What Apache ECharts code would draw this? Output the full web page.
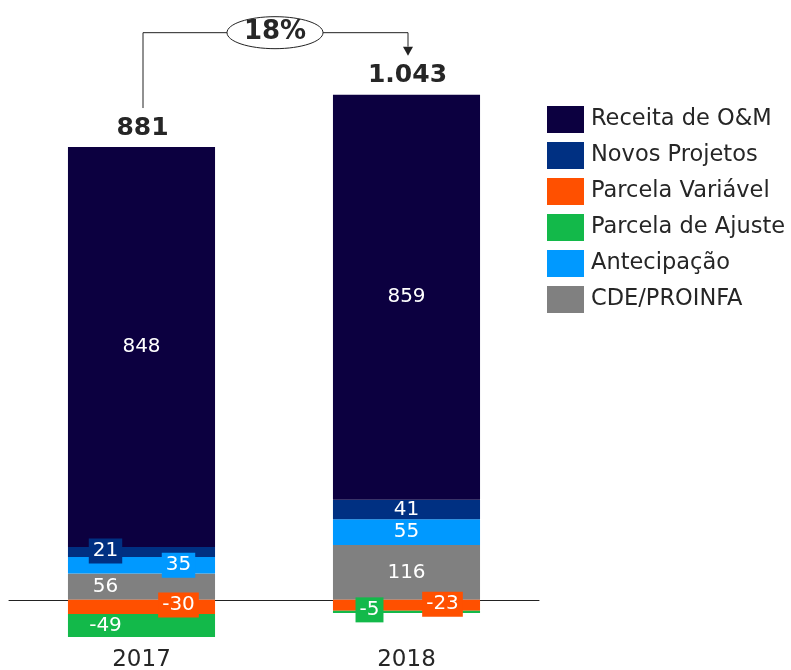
<!DOCTYPE html>
<html>
<head>
<meta charset="utf-8">
<script src="https://cdn.jsdelivr.net/npm/echarts@6/dist/echarts.min.js"></script>
<style>
  html, body { margin: 0; padding: 0; background: #fff; }
  #chart { width: 791px; height: 670px; }
</style>
</head>
<body>
<div id="chart"></div>
<script>
  // dados
  const years = ['2017', '2018']
  const receitaOM = [848, 859]
  const novosProjetos = [21, 41]
  const parcelaVariavel = [-30, -23]
  const parcelaAjuste = [-49, -5]
  const antecipacao = [35, 55]
  const cdeProinfa = [56, 116]

  const FONT = 'DejaVu Sans'
  const legendOrder = ['Receita de O&M', 'Novos Projetos', 'Parcela Variável', 'Parcela de Ajuste', 'Antecipação', 'CDE/PROINFA']

  // ordem de empilhamento: positivos de baixo p/ cima, depois negativos
  const seriesDefs = [
    { name: 'CDE/PROINFA', values: cdeProinfa, color: '#808080', place: [{ dx: -36 }, {}] },
    { name: 'Antecipação', values: antecipacao, color: '#0099ff', place: [{ dx: 37, box: true }, {}] },
    { name: 'Novos Projetos', values: novosProjetos, color: '#003082', place: [{ dx: -36, dy: -1, box: true }, {}] },
    { name: 'Receita de O&M', values: receitaOM, color: '#0c0040', place: [{}, {}] },
    { name: 'Parcela Variável', values: parcelaVariavel, color: '#ff5000', place: [{ dx: 37, dy: -2, box: true }, { dx: 36, dy: -1, box: true }] },
    { name: 'Parcela de Ajuste', values: parcelaAjuste, color: '#13b94a', place: [{ dx: -36 }, { dx: -37, dy: -2, box: true }] }
  ]

  function fmt (n) {
    return String(n).replace(/\B(?=(\d{3})+(?!\d))/g, '.')
  }

  let chart = echarts.init(document.getElementById('chart'))

  chart.setOption({
    animation: false,
    textStyle: { fontFamily: FONT },
    legend: {
      data: legendOrder,
      orient: 'vertical',
      left: 542,
      top: 101,
      itemWidth: 37,
      itemHeight: 27,
      itemGap: 9,
      icon: 'rect',
      selectedMode: false,
      textStyle: { fontFamily: FONT, fontSize: 22.5, color: '#262626', padding: [0, 0, 0, 2] }
    },
    grid: { left: 9, right: 252, top: 81, bottom: 23, outerBoundsMode: 'none', containLabel: false },
    xAxis: {
      type: 'category',
      data: years,
      axisTick: { show: false },
      axisLine: { lineStyle: { color: '#222', width: 1 } },
      axisLabel: { margin: 2, fontSize: 23, lineHeight: 22, color: '#262626', fontFamily: FONT }
    },
    yAxis: {
      type: 'value',
      min: -100,
      max: 1100,
      show: false,
      splitLine: { show: false }
    },
    series: seriesDefs.map(function (s) {
      return {
        name: s.name,
        type: 'bar',
        stack: 'total',
        barWidth: '55.5%',
        itemStyle: { color: s.color },
        data: s.values.map(function (v, i) {
          let p = s.place[i]
          return {
            value: v,
            label: {
              show: true,
              position: 'inside',
              offset: [p.dx || 0, p.dy || 0],
              color: '#fff',
              fontSize: 20,
              fontFamily: FONT,
              backgroundColor: p.box ? s.color : 'transparent',
              padding: p.box ? [3, 4, 2, 4] : 0
            }
          }
        })
      }
    })
  })

  // totais, chave e seta de crescimento
  let totals = years.map(function (y, i) {
    return seriesDefs.reduce(function (acc, s) { return acc + s.values[i] }, 0)
  })
  let tops = years.map(function (y, i) {
    let pos = seriesDefs.reduce(function (acc, s) { return acc + Math.max(0, s.values[i]) }, 0)
    return chart.convertToPixel({ seriesIndex: 0 }, [i, pos])
  })
  let growth = Math.round((totals[1] / totals[0] - 1) * 100)
  let bracketY = Math.min(tops[0][1], tops[1][1]) - 62
  let x0 = tops[0][0] + 1.5
  let x1 = tops[1][0] + 1.5
  let startY = tops[0][1] - 39
  let tipY = tops[1][1] - 39
  let midX = (x0 + x1) / 2

  chart.setOption({
    graphic: [
      {
        type: 'polyline',
        shape: { points: [[x0, startY], [x0, bracketY], [x1, bracketY], [x1, tipY - 9]] },
        style: { stroke: '#222', lineWidth: 1, fill: null }
      },
      {
        type: 'polygon',
        shape: { points: [[x1 - 5, tipY - 9], [x1 + 5, tipY - 9], [x1, tipY]] },
        style: { fill: '#222' }
      },
      {
        type: 'ellipse',
        shape: { cx: midX - 0.5, cy: bracketY, rx: 48, ry: 16 },
        style: { fill: '#fff', stroke: '#222', lineWidth: 1 }
      },
      {
        type: 'text',
        x: midX - 0.5,
        y: bracketY,
        style: { text: growth + '%', fontFamily: FONT, fontSize: 26, fontWeight: 'bold', fill: '#262626', align: 'center', verticalAlign: 'middle' }
      }
    ].concat(tops.map(function (t, i) {
      return {
        type: 'text',
        x: t[0] + 1,
        y: t[1] - 19,
        style: { text: fmt(totals[i]), fontFamily: FONT, fontSize: 25, fontWeight: 'bold', fill: '#262626', align: 'center', verticalAlign: 'middle' }
      }
    }))
  })
</script>
</body>
</html>
